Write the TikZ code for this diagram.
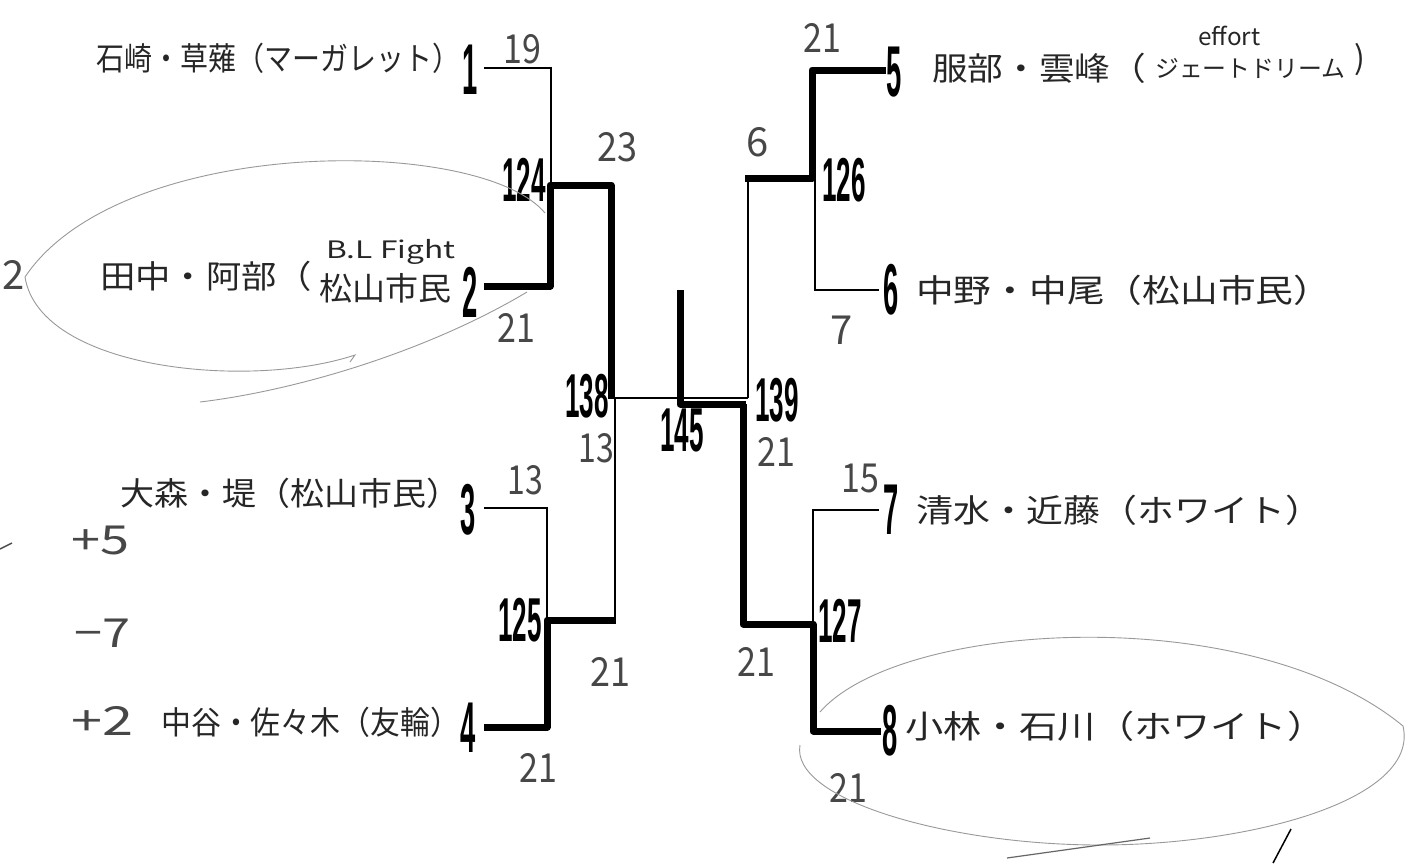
\documentclass[tikz,border=0pt]{standalone}
\usepackage{fontspec}
\usepackage{graphicx}
\newfontfamily\jpf{Noto Sans CJK JP}
\newfontfamily\numf{Liberation Sans}
\newcommand\condn[1]{\scalebox{0.38}[1]{#1}}
\newcommand\condm[1]{\scalebox{0.42}[1]{#1}}
\newcommand\fitw[2]{\resizebox{#1}{\height}{#2}}
\begin{document}
\begin{tikzpicture}[x=1pt,y=-1pt,
  seednum/.style={inner sep=0pt, font=\numf\bfseries\fontsize{72}{72}\selectfont},
  matchnum/.style={inner sep=0pt, font=\numf\bfseries\fontsize{62}{62}\selectfont},
  scorenum/.style={inner sep=0pt, text=black!72, font=\jpf\fontsize{40}{40}\selectfont},
  teamname/.style={inner sep=0pt, anchor=west, text=black!85, font=\jpf\fontsize{32}{32}\selectfont},
  smallname/.style={teamname, font=\jpf\fontsize{24}{24}\selectfont},
  thinline/.style={line width=2pt},
  winline/.style={line width=7pt, line join=round},
  pencil/.style={draw=black!40, line width=0.9pt}]
\fill[white] (0,0) rectangle (1407,865);
\useasboundingbox (0,0) rectangle (1407,865);

% seeds
\node[seednum] (s1) at (470,70) {\condn{1}};
\node[seednum] (s2) at (470,292) {\condn{2}};
\node[seednum] (s3) at (468,510) {\condn{3}};
\node[seednum] (s4) at (468,728) {\condn{4}};
\node[seednum] (s5) at (894,72) {\condn{5}};
\node[seednum] (s6) at (891,290) {\condn{6}};
\node[seednum] (s7) at (891,510) {\condn{7}};
\node[seednum] (s8) at (890,731) {\condn{8}};

% match numbers
\node[matchnum] (m124) at (524,180) {\condm{124}};
\node[matchnum] (m138) at (587,396) {\condm{138}};
\node[matchnum] (m145) at (682,430) {\condm{145}};
\node[matchnum] (m139) at (777,400) {\condm{139}};
\node[matchnum] (m126) at (844,180) {\condm{126}};
\node[matchnum] (m125) at (520,620) {\condm{125}};
\node[matchnum] (m127) at (840,621) {\condm{127}};

% junction coordinates
\coordinate (a1) at (484,68);
\coordinate (a2) at (484,286);
\coordinate (a3) at (484,508);
\coordinate (a4) at (484,727);
\coordinate (b5) at (886,70);
\coordinate (b6) at (879,290);
\coordinate (b7) at (879,510);
\coordinate (b8) at (881,731);

% left bracket
\draw[thinline] (a1) -- (551,68) -- (551,184);
\draw[winline] (a2) -- (550,286) -- (550,185) -- (611,185) -- (611,399);
\draw[thinline] (a3) -- (547,508) -- (547,620);
\draw[winline] (a4) -- (547,727) -- (547,620) -- (616,620);
\draw[thinline] (615,620) -- (615,398) -- (748,398);
% centre
\draw[winline] (680,290) -- (680,404) -- (746,404);
% right bracket
\draw[thinline] (748,398) -- (748,180);
\draw[winline] (745,178) -- (812,178) -- (812,70) -- (b5);
\draw[thinline] (815,178) -- (815,290) -- (b6);
\draw[winline] (743,404) -- (743,624) -- (813,624) -- (813,731) -- (b8);
\draw[thinline] (813,624) -- (813,510) -- (b7);

% scores
\node[scorenum] (c1) at (522,49) {\scalebox{0.85}[1]{19}};
\node[scorenum] (c2) at (617,147) {\scalebox{0.9}[1]{23}};
\node[scorenum] (c3) at (516,328) {\scalebox{0.85}[1]{21}};
\node[scorenum] (c4) at (525,480) {\scalebox{0.8}[1]{13}};
\node[scorenum] (c5) at (596,448) {\scalebox{0.8}[1]{13}};
\node[scorenum] (c6) at (610,672) {\scalebox{0.9}[1]{21}};
\node[scorenum] (c7) at (538,768) {\scalebox{0.85}[1]{21}};
\node[scorenum] (c8) at (822,38) {\scalebox{0.85}[1]{21}};
\node[scorenum] (c9) at (758,142) {6};
\node[scorenum] (c10) at (842,330) {7};
\node[scorenum] (c11) at (776,452) {\scalebox{0.85}[1]{21}};
\node[scorenum] (c12) at (860,478) {\scalebox{0.85}[1]{15}};
\node[scorenum] (c13) at (756,662) {\scalebox{0.85}[1]{21}};
\node[scorenum] (c14) at (848,788) {\scalebox{0.85}[1]{21}};

% left margin notes
\node[scorenum] (n0) at (14,275) {2};
\node[scorenum] (n1) at (100,540) {\fitw{58pt}{+5}};
\node[scorenum] (n2) at (102,633) {\fitw{56pt}{−7}};
\node[scorenum] (n3) at (102,721) {\fitw{62pt}{+2}};
\draw[black!70, line width=1.5pt] (0,549) -- (12,543);

% team names
\node[teamname] (t1) at (96,58) {\fitw{364pt}{石崎・草薙（マーガレット）}};
\node[teamname] (t2) at (100,276) {\fitw{212pt}{田中・阿部（}};
\node[smallname] (t2b) at (326,252) {\fitw{129pt}{B.L Fight}};
\node[teamname] (t2c) at (319,288) {\fitw{132pt}{松山市民}};
\node[teamname] (t3) at (120,493) {\fitw{340pt}{大森・堤（松山市民）}};
\node[teamname] (t4) at (161,722) {\fitw{299pt}{中谷・佐々木（友輪）}};
\node[teamname] (t5) at (932,68) {\fitw{214pt}{服部・雲峰（}};
\node[smallname] (t5b) at (1198,36) {\fitw{62pt}{effort}};
\node[smallname] (t5c) at (1155,68) {\fitw{190pt}{ジェートドリーム}};
\node[teamname, anchor=center] (t5d) at (1360,60) {)};
\node[teamname] (t6) at (916,290) {\fitw{415pt}{中野・中尾（松山市民）}};
\node[teamname] (t7) at (916,510) {\fitw{406pt}{清水・近藤（ホワイト）}};
\node[teamname] (t8) at (905,726) {\fitw{420pt}{小林・石川（ホワイト）}};

% pencil loops
\draw[pencil] (545,213) .. controls (480,135) and (120,135) .. (25,277)
              .. controls (40,370) and (250,390) .. (355,355) -- (350,362);
\draw[pencil] (527,292) .. controls (430,350) and (300,390) .. (200,402);
\draw[pencil] (820,712) .. controls (900,620) and (1250,600) .. (1403,726)
              .. controls (1420,800) and (1250,845) .. (1100,845)
              .. controls (950,845) and (790,800) .. (800,745);
\draw[black!60, line width=1.2pt] (1007,858) -- (1150,838);
\draw[black, line width=1.5pt] (1273,863) -- (1291,829);
\end{tikzpicture}
\end{document}
